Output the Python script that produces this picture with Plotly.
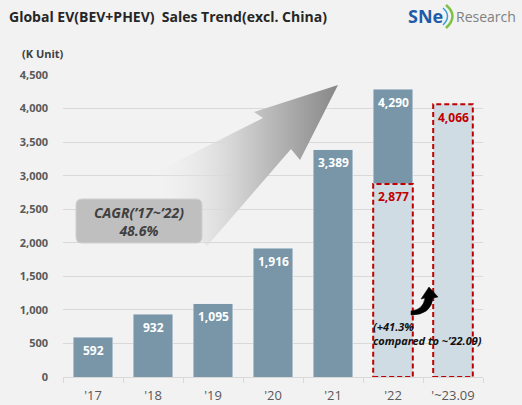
import plotly.graph_objects as go

# ---- data ----
years = ["'17", "'18", "'19", "'20", "'21", "'22"]
sales = [592, 932, 1095, 1916, 3389, 4290]
partial_cat = "'22"
partial_22 = 2877          # Jan~Sep 2022
ytd_cat = "'~23.09"
ytd_23 = 4066              # Jan~Sep 2023
cagr_text = "CAGR(’17~’22)<br>48.6%"
growth_text = "(+41.3%<br>compared to ~’22.09)"

categories = years + [ytd_cat]

DARK = '#7896a8'
LIGHT = '#d0dce3'
RED = '#c00000'
FONT = 'Open Sans'

W, H = 522, 405
L, R, T, B = 63, 483, 75, 377  # plot area in pixels


def px(x):
    return (x - L) / (R - L)


def py(y):
    return (B - y) / (B - T)


fig = go.Figure()

# decorative gradient arrow (overlay pixel axes)
arrow_x = [338, 300, 291, 207, 146, 263, 254, 338]
arrow_y = [85, 160, 149, 246, 177, 118, 112, 85]
fig.add_trace(go.Scatter(
    x=arrow_x, y=arrow_y, xaxis='x2', yaxis='y2', mode='lines',
    line=dict(width=0), fill='toself', hoverinfo='skip', showlegend=False,
    fillgradient=dict(type='horizontal', start=150, stop=338,
                      colorscale=[[0, 'rgba(242,242,242,0)'],
                                  [0.45, 'rgba(212,212,212,1)'],
                                  [1, 'rgba(135,135,135,1)']])))

# full-year bars
fig.add_trace(go.Bar(x=years[:-1], y=sales[:-1], marker=dict(color=DARK),
                     width=0.66, showlegend=False, hoverinfo='skip'))
# '22 split: Jan~Sep part and remainder
fig.add_trace(go.Bar(x=[partial_cat], y=[partial_22], marker=dict(color=LIGHT),
                     width=0.66, showlegend=False, hoverinfo='skip'))
fig.add_trace(go.Bar(x=[partial_cat], y=[sales[-1] - partial_22], marker=dict(color=DARK),
                     width=0.66, showlegend=False, hoverinfo='skip'))
# '23.09
fig.add_trace(go.Bar(x=[ytd_cat], y=[ytd_23], marker=dict(color=LIGHT),
                     width=0.66, showlegend=False, hoverinfo='skip'))

annotations = []
for c, v in zip(years, sales):
    annotations.append(dict(x=c, y=v, xref='x', yref='y', text=f"<b>{v:,}</b>",
                            showarrow=False, yanchor='middle', yshift=-13,
                            font=dict(family=FONT, size=12, color='white')))
for c, v in [(partial_cat, partial_22), (ytd_cat, ytd_23)]:
    annotations.append(dict(x=c, y=v, xref='x', yref='y', text=f"<b>{v:,}</b>",
                            showarrow=False, yanchor='middle', yshift=-13,
                            font=dict(family=FONT, size=12, color=RED)))

# title / unit / logo
annotations += [
    dict(x=px(7), y=py(17), xref='paper', yref='paper', xanchor='left', yanchor='middle',
         text="<b>Global EV(BEV+PHEV)  Sales Trend(excl. China)</b>", showarrow=False,
         font=dict(family=FONT, size=14, color='#262626')),
    dict(x=px(20), y=py(54), xref='paper', yref='paper', xanchor='left', yanchor='middle',
         text="<b>(K Unit)</b>", showarrow=False,
         font=dict(family=FONT, size=11, color='#404040')),
    dict(x=px(406), y=py(16), xref='paper', yref='paper', xanchor='left', yanchor='middle',
         text="<b><span style='color:#1f5ca8'>SNe</span></b>", showarrow=False,
         font=dict(family=FONT, size=18)),
    dict(x=px(518), y=py(17), xref='paper', yref='paper', xanchor='right', yanchor='middle',
         text="Research", showarrow=False,
         font=dict(family=FONT, size=14, color='#808080')),
    dict(x=px(139), y=py(221), xref='paper', yref='paper', xanchor='center', yanchor='middle',
         text=f"<b><i>{cagr_text}</i></b>", showarrow=False,
         font=dict(family=FONT, size=14, color='#404040')),
    dict(x=px(371), y=py(333), xref='paper', yref='paper', xanchor='left', yanchor='middle',
         text=f"<b><i>{growth_text}</i></b>", showarrow=False, align='left',
         font=dict(family=FONT, size=11, color='#111111')),
]

shapes = [
    # green / blue arcs of logo
    dict(type='path', xref='paper', yref='paper', layer='above',
         path=f"M {px(446)},{py(5)} Q {px(459)},{py(16)} {px(446)},{py(28)}",
         line=dict(color='#7cc242', width=2.5)),
    dict(type='path', xref='paper', yref='paper', layer='above',
         path=f"M {px(443)},{py(8)} Q {px(452)},{py(16)} {px(443)},{py(25)}",
         line=dict(color='#3aa0d8', width=1.5)),
    # CAGR rounded box
    dict(type='path', xref='x2', yref='y2', layer='above',
         path="M 82,199 L 196,199 Q 202,199 202,205 L 202,237 Q 202,243 196,243 "
              "L 82,243 Q 76,243 76,237 L 76,205 Q 76,199 82,199 Z",
         fillcolor='#bfbfbf', line=dict(color='#cfcfcf', width=1)),
    # red dashed outlines
    dict(type='rect', xref='x', yref='y', x0=partial_cat, x1=partial_cat,
         x0shift=-0.33, x1shift=0.33, y0=0, y1=partial_22, layer='above',
         line=dict(color=RED, width=2, dash='5px,3px')),
    dict(type='rect', xref='x', yref='y', x0=ytd_cat, x1=ytd_cat,
         x0shift=-0.33, x1shift=0.33, y0=0, y1=ytd_23, layer='above',
         line=dict(color=RED, width=2, dash='5px,3px')),
    # black curved arrow
    dict(type='path', xref='x2', yref='y2', layer='above',
         path="M 411,311 Q 423,310 425,298 L 421,299 L 429,287 L 438,297 L 433,298 "
              "Q 431,315 411,315 Z",
         fillcolor='black', line=dict(color='black', width=0.5)),
]

fig.update_layout(
    width=W, height=H,
    margin=dict(l=L, r=W - R, t=T, b=H - B, pad=0, autoexpand=False),
    paper_bgcolor='#f2f2f2', plot_bgcolor='#f2f2f2',
    barmode='stack', bargap=0.34,
    font=dict(family=FONT),
    xaxis=dict(type='category', categoryorder='array', categoryarray=categories,
               range=[-0.5, 6.5], showgrid=False, showline=True, linecolor='#d9d9d9',
               linewidth=1, ticks='outside', tickson='boundaries', ticklen=5,
               tickcolor='#d9d9d9', tickfont=dict(size=13, color='#595959'),
               ticklabelstandoff=6, automargin=False),
    yaxis=dict(range=[0, 4500], dtick=500, tickformat=',', showgrid=True,
               gridcolor='#d9d9d9', gridwidth=1, zeroline=False, showline=False,
               tickfont=dict(size=11, color='#595959', weight='bold'),
               ticklabelstandoff=14, automargin=False),
    xaxis2=dict(overlaying='x', range=[L, R], visible=False),
    yaxis2=dict(overlaying='y', range=[B, T], visible=False),
    annotations=annotations, shapes=shapes,
)

fig.write_html("out.html", config={'displayModeBar': False},
               post_script="document.body.style.margin='0';document.body.style.overflow='hidden';")
